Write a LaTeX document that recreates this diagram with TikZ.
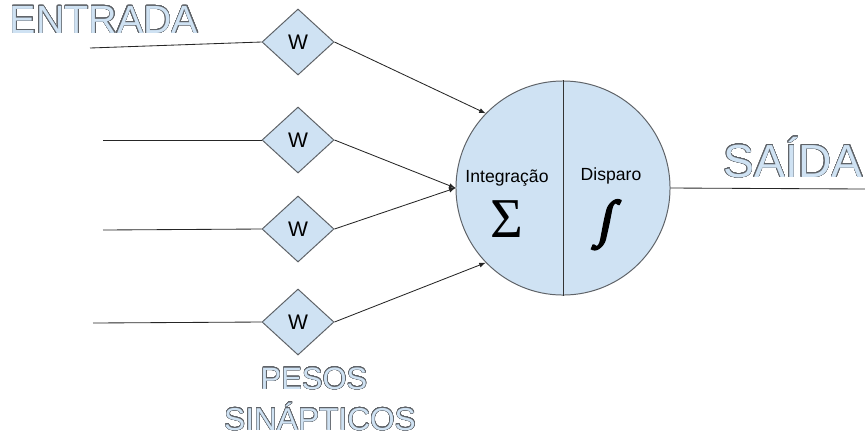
\documentclass[tikz,border=0pt]{standalone}
\usepackage{fontspec}
\setmainfont{Liberation Sans}
\newfontfamily\serifsym{Liberation Serif}
\newfontfamily\intsym[FakeBold=4,FakeSlant=0.2]{Liberation Serif}
\usepackage{xcolor}
\usepackage{contour}
\usetikzlibrary{positioning,shapes,arrows}
\definecolor{cellblue}{HTML}{CFE2F3}
\definecolor{edgegray}{HTML}{5F6368}
\contourlength{0.28pt}
\contournumber{32}
\newcommand{\vazado}[1]{\contour{edgegray}{\textcolor{cellblue}{#1}}}

\begin{document}
\begin{tikzpicture}[x=0.025cm,y=-0.025cm]
\tikzstyle{every node}+=[inner sep=0pt]
\tikzstyle{peso}=[diamond,draw=edgegray,fill=cellblue,line width=0.7pt,minimum width=1.8cm,minimum height=1.65cm,font=\fontsize{15}{17}\selectfont]
\tikzstyle{fio}=[draw=black!85,line width=0.6pt]
\tikzstyle{titulo}=[anchor=base]
\useasboundingbox (0,0) rectangle (865,437);
% neuronio
\node (neu) [circle,draw=edgegray,fill=cellblue,line width=0.7pt,minimum size=5.35cm] at (563,188) {};
\draw [black!80,line width=0.7pt] (neu.north) -- (neu.south);
\node (integ) [anchor=base,font=\fontsize{12.5}{14}\selectfont] at (507,182) {Integração};
\node (disp) [anchor=base,font=\fontsize{12.5}{14}\selectfont] at (611,180) {Disparo};
\node (soma) [anchor=base,font=\serifsym\fontsize{40}{44}\selectfont] at (507,237) {Σ};
\node (func) [anchor=base,font=\intsym\fontsize{36}{40}\selectfont] at (604,236) {∫};
% pesos
\node (w1) [peso] at (298,42) {W};
\node (w2) [peso] at (298,140) {W};
\node (w3) [peso] at (298,229) {W};
\node (w4) [peso] at (298,322) {W};
\coordinate (e1) at (90,48);
\coordinate (e2) at (103,140);
\coordinate (e3) at (103,230);
\coordinate (e4) at (93,323);
\coordinate (s) at (865,189);
\draw [fio] (e1) -- (w1.west);
\draw [fio] (e2) -- (w2.west);
\draw [fio] (e3) -- (w3.west);
\draw [fio] (e4) -- (w4.west);
\draw [fio,-latex] (w1.east) -- (neu.136);
\draw [fio,-latex] (w2.east) -- (neu.west);
\draw [fio,-latex] (w3.east) -- (neu.west);
\draw [fio,-latex] (w4.east) -- (neu.224);
\draw [fio] (neu.east) -- (s);
% rotulos
\node (entrada) [titulo,font=\fontsize{28}{30}\selectfont] at (104,33) {\vazado{ENTRADA}};
\node (saida) [titulo,font=\fontsize{33}{36}\selectfont] at (793,177) {\vazado{SAÍDA}};
\node (pesos) [titulo,font=\fontsize{22}{26}\selectfont] at (314,389) {\vazado{PESOS}};
\node (sinap) [titulo,font=\fontsize{22.5}{26}\selectfont] at (320,430) {\vazado{SINÁPTICOS}};
\end{tikzpicture}
\end{document}
